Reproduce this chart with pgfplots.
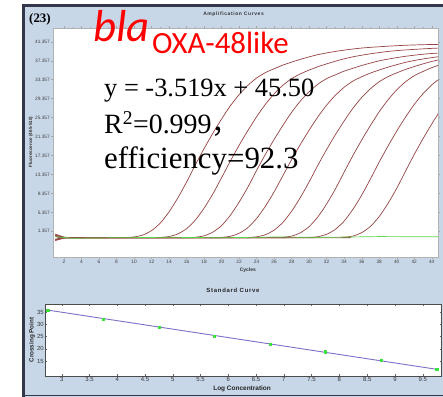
\documentclass[border=0pt]{standalone}
\usepackage{fontspec}
\setmainfont{Liberation Sans}
\newfontfamily\serifx{Liberation Serif}
\newfontfamily\calib{Carlito}
\newfontfamily\cjk{Noto Sans CJK SC}
\newfontfamily\spaced[LetterSpace=12]{Liberation Sans}
\usepackage{pgfplots}
\pgfplotsset{compat=1.18}
\definecolor{panel}{RGB}{200,215,232}
\definecolor{framec}{RGB}{50,55,75}
\definecolor{amp}{RGB}{150,68,68}
\definecolor{neg}{RGB}{90,215,70}
\definecolor{fitline}{RGB}{125,112,200}
\definecolor{ptgreen}{RGB}{60,225,60}
\begin{document}
\begin{tikzpicture}[x=1bp,y=1bp]
\useasboundingbox (0,0) rectangle (443,396);
\fill[white] (-3,-3) rectangle (447,399);
\fill[panel] (22,-3) rectangle (447,391);
\draw[framec, line width=3bp] (23.5,-3) -- (23.5,390) -- (447,390);
\draw[framec, line width=1.5bp] (22,0.75) -- (447,0.75);

% ---------- Amplification curves ----------
\begin{axis}[at={(53bp,139bp)}, anchor=south west, scale only axis,
  width=385bp, height=229bp,
  xmin=0.744, xmax=44.72, ymin=-4.06, ymax=44.25,
  axis background/.style={fill=white},
  axis line style={gray!60, line width=0.4bp},
  xtick={2,4,...,44}, minor x tick num=1,
  ytick={1.357,5.357,9.357,13.357,17.357,21.357,25.357,29.357,33.357,37.357,41.357},
  yticklabels={1.357,5.357,9.357,13.357,17.357,21.357,25.357,29.357,33.357,37.357,41.357},
  tick align=outside, major tick length=2bp, minor tick length=1.2bp,
  tick style={gray!70, line width=0.3bp},
  ticklabel style={font=\fontsize{4.8}{5}\selectfont, text=black!75, inner sep=1bp},
  /pgf/number format/assume math mode=true,
  title={\spaced\bfseries Amplification Curves},
  title style={at={(0.469,1.035)}, anchor=center, font=\fontsize{5}{5}\selectfont, text=black!80},
  xlabel={Cycles},
  xlabel style={at={(0.506,-0.059)}, anchor=center, font=\bfseries\fontsize{5}{5}\selectfont, text=black!80},
  ylabel={Fluorescence (465-510)},
  ylabel style={at={(-0.057,0.502)}, anchor=center, font=\bfseries\fontsize{4.6}{5}\selectfont, text=black!80},
]
\addplot[amp, line width=0.7bp, smooth, tension=0.4] coordinates {(1,0.8) (2,0.15) (3,0) (8,0) (9,0.02) (10,0.18) (11,0.57) (12,1.51) (13,3.10) (14,5.47) (15,8.40) (16,11.75) (17,15.38) (18,18.81) (19,22.03) (20,25.05) (21,27.83) (22,30.19) (23,32.15) (24,33.70) (25,34.84) (26,35.66) (27,36.43) (28,37.05) (29,37.64) (30,38.16) (31,38.63) (32,38.99) (33,39.31) (34,39.58) (35,39.82) (36,40.02) (37,40.17) (38,40.29) (39,40.41) (40,40.51) (41,40.61) (42,40.67) (43,40.73) (44,40.77) (45,40.8)};
\addplot[amp, line width=0.7bp, smooth, tension=0.4] coordinates {(1,-0.6) (2,-0.1) (3,0) (12,0) (13,0.06) (14,0.26) (15,0.80) (16,1.91) (17,3.72) (18,6.23) (19,9.25) (20,12.66) (21,16.18) (22,19.50) (23,22.61) (24,25.53) (25,28.14) (26,30.35) (27,32.16) (28,33.57) (29,34.57) (30,35.38) (31,36.08) (32,36.68) (33,37.25) (34,37.75) (35,38.17) (36,38.51) (37,38.81) (38,39.07) (39,39.30) (40,39.48) (41,39.62) (42,39.74) (43,39.85) (44,39.95) (45,40.03)};
\addplot[amp, line width=0.7bp, smooth, tension=0.4] coordinates {(1,0.5) (2,0.1) (3,0) (16,0) (17,0.12) (18,0.40) (19,1.19) (20,2.57) (21,4.74) (22,7.51) (23,10.67) (24,14.22) (25,17.58) (26,20.74) (27,23.70) (28,26.47) (29,28.84) (30,30.81) (31,32.39) (32,33.58) (33,34.37) (34,35.16) (35,35.75) (36,36.34) (37,36.85) (38,37.33) (39,37.68) (40,38.00) (41,38.28) (42,38.51) (43,38.71) (44,38.87) (45,38.99)};
\addplot[amp, line width=0.7bp, smooth, tension=0.4] coordinates {(1,-0.4) (2,0) (3,0) (19,0) (20,0.08) (21,0.31) (22,0.94) (23,2.14) (24,4.07) (25,6.64) (26,9.67) (27,13.09) (28,16.49) (29,19.69) (30,22.70) (31,25.51) (32,27.98) (33,30.06) (34,31.75) (35,33.05) (36,33.96) (37,34.74) (38,35.39) (39,35.98) (40,36.51) (41,37.00) (42,37.39) (43,37.71) (44,38.00) (45,38.25)};
\addplot[amp, line width=0.7bp, smooth, tension=0.4] coordinates {(1,0.3) (2,0.05) (3,0) (22,0) (23,0.04) (24,0.20) (25,0.64) (26,1.61) (27,3.24) (28,5.60) (29,8.50) (30,11.79) (31,15.30) (32,18.62) (33,21.74) (34,24.65) (35,27.31) (36,29.58) (37,31.44) (38,32.91) (39,33.98) (40,34.78) (41,35.51) (42,36.11) (43,36.68) (44,37.18) (45,37.62)};
\addplot[amp, line width=0.7bp, smooth, tension=0.4] coordinates {(1,-0.3) (2,0) (3,0) (26,0) (27,0.10) (28,0.35) (29,1.05) (30,2.35) (31,4.41) (32,7.13) (33,10.29) (34,13.85) (35,17.33) (36,20.61) (37,23.69) (38,26.57) (39,29.08) (40,31.19) (41,32.89) (42,34.18) (43,35.07) (44,35.88) (45,36.53)};
\addplot[amp, line width=0.7bp, smooth, tension=0.4] coordinates {(1,0.6) (2,0.1) (3,0) (29,0) (30,0.05) (31,0.23) (32,0.73) (33,1.78) (34,3.52) (35,5.99) (36,8.99) (37,12.39) (38,15.96) (39,19.32) (40,22.48) (41,25.43) (42,28.11) (43,30.38) (44,32.24) (45,33.70)};
\addplot[amp, line width=0.7bp, smooth, tension=0.4] coordinates {(1,-0.5) (2,-0.05) (3,0) (33,0) (34,0.10) (35,0.35) (36,1.07) (37,2.38) (38,4.47) (39,7.22) (40,10.41) (41,14.02) (42,17.55) (43,20.87) (44,23.99) (45,26.90)};
\addplot[neg, line width=0.7bp] coordinates {(1,0.2) (3,-0.1) (8,0.0) (14,0.1) (20,0.0) (26,0.15) (32,0.1) (38,0.25) (45,0.2)};
\end{axis}

% ---------- Standard curve ----------
\begin{axis}[at={(45bp,20bp)}, anchor=south west, scale only axis,
  width=396.6bp, height=72bp,
  xmin=2.70, xmax=9.84, ymin=8.84, ymax=38.4,
  axis background/.style={fill=white},
  axis line style={black!70, line width=0.5bp},
  xtick={3,3.5,4,4.5,5,5.5,6,6.5,7,7.5,8,8.5,9,9.5},
  xticklabels={3,3.5,4,4.5,5,5.5,6,6.5,7,7.5,8,8.5,9,9.5},
  ytick={15,20,25,30,35},
  tick align=inside, major tick length=2bp,
  tick style={black!60, line width=0.3bp},
  ticklabel style={font=\fontsize{6}{6}\selectfont, text=black!80, inner sep=1bp},
  /pgf/number format/assume math mode=true,
  title={\spaced\bfseries Standard Curve},
  title style={at={(0.474,1.111)}, anchor=center, font=\fontsize{6}{6}\selectfont, text=black!85},
  xlabel={Log Concentration},
  xlabel style={at={(0.497,-0.18)}, anchor=center, font=\bfseries\fontsize{6.5}{6.5}\selectfont, text=black!85},
  ylabel={Crossing Point},
  ylabel style={at={(-0.033,0.5)}, anchor=center, font=\bfseries\fontsize{6.3}{6.3}\selectfont, text=black!85},
]
\addplot[fitline, line width=0.9bp] coordinates {(2.75,35.9) (9.75,11.6)};
\addplot[only marks, mark=square*, mark size=1.1bp, ptgreen] coordinates {(2.75,35.7) (3.75,32.1) (4.75,28.8) (5.75,25.3) (6.75,22.0) (7.75,18.8) (8.75,15.3) (9.75,11.7)};
\end{axis}

% ---------- Overlaid text ----------
\node[anchor=base west, inner sep=0, font=\serifx\bfseries\fontsize{13}{13}\selectfont] at (29,373.5) {(23)};
\node[anchor=base west, inner sep=0, text=red, font=\calib\itshape\fontsize{45}{45}\selectfont] at (93,354.3) {bla};
\node[anchor=base west, inner sep=0, text=red, font=\calib\fontsize{31}{31}\selectfont] at (152,342.7) {OXA-48like};
\node[anchor=base west, inner sep=0, font=\serifx\fontsize{26.5}{26.5}\selectfont] at (104,300) {y = -3.519x + 45.50};
\node[anchor=base west, inner sep=0, font=\serifx\fontsize{28}{28}\selectfont] at (104,262.7) {R\textsuperscript{2}=0.999{\cjk ，}};
\node[anchor=base west, inner sep=0, font=\serifx\fontsize{31}{31}\selectfont] at (104,227.7) {efficiency=92.3};
\end{tikzpicture}
\end{document}
